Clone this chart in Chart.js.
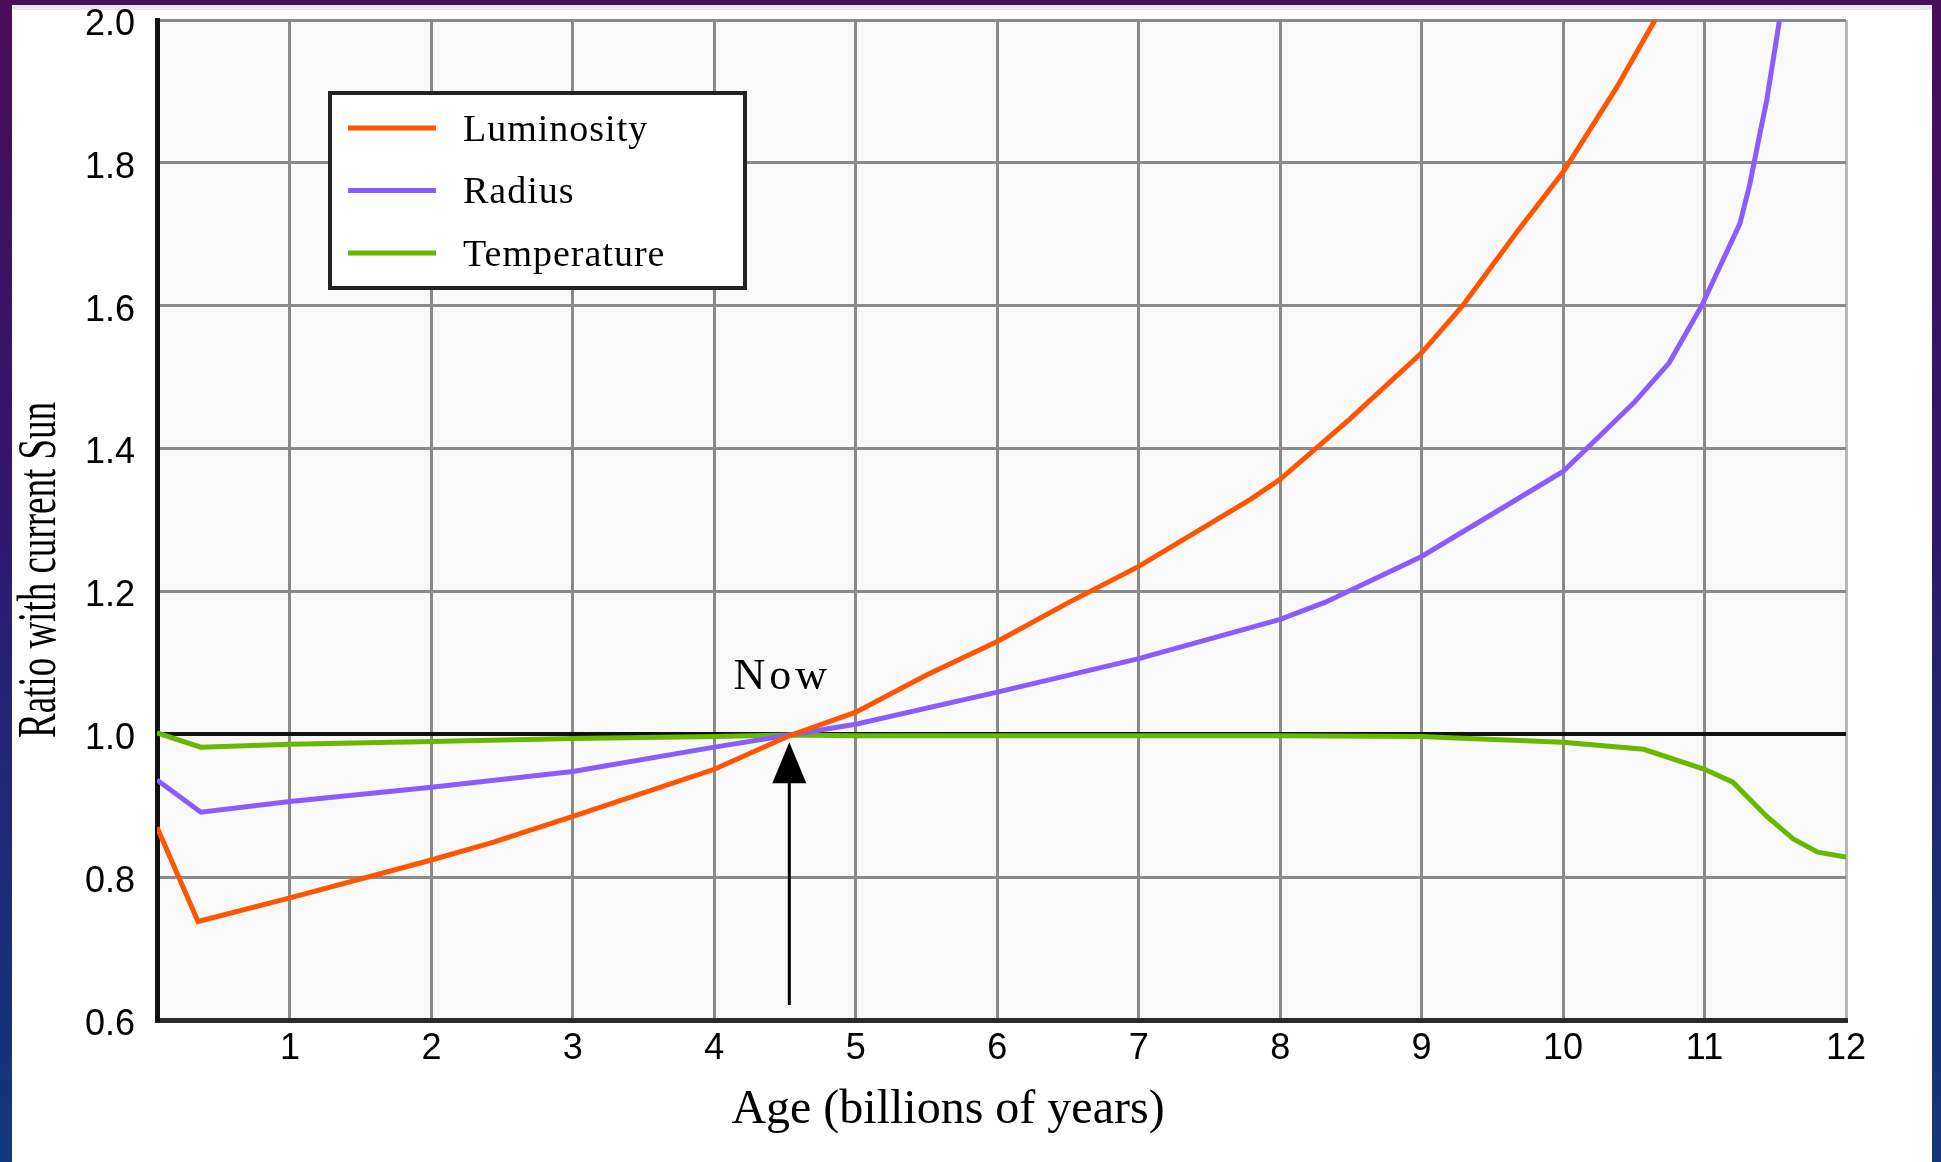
<!DOCTYPE html>
<html>
<head>
<meta charset="utf-8">
<script src="https://cdn.jsdelivr.net/npm/chart.js@4.4.1/dist/chart.umd.min.js"></script>
<style>
html, body { margin: 0; padding: 0; width: 1941px; height: 1162px; overflow: hidden; }
body { position: relative; background: linear-gradient(to bottom, #4a0d5a 0%, #32166a 40%, #1d2c78 75%, #13367f 100%); }
#panel { position: absolute; left: 12px; top: 5px; width: 1920px; height: 1157px; background: #fff; border-top: 5px solid #e6e6ee; box-sizing: border-box; }
#chart { position: absolute; left: 0; top: 0; }
</style>
</head>
<body>
<div id="panel"></div>
<canvas id="chart" width="1941" height="1162"></canvas>
<script>
// values (age in billions of years, ratio to current Sun)
const lumAge = [0.06, 0.35, 1, 2, 2.44, 3, 4, 4.53, 5, 5.5, 6, 6.5, 7, 7.79, 8, 8.49, 9, 9.29, 9.67, 10, 10.38, 10.65];
const lumVal = [0.87, 0.738, 0.771, 0.824, 0.849, 0.885, 0.951, 0.998, 1.031, 1.083, 1.13, 1.184, 1.235, 1.329, 1.357, 1.441, 1.534, 1.6, 1.702, 1.787, 1.906, 2.0];

const radAge = [0.06, 0.37, 1, 2, 3, 4, 4.53, 5, 6, 7, 8, 8.32, 9, 9.43, 10, 10.5, 10.75, 10.98, 11.25, 11.32, 11.38, 11.44, 11.53];
const radVal = [0.936, 0.891, 0.906, 0.926, 0.948, 0.982, 0.999, 1.014, 1.059, 1.106, 1.161, 1.185, 1.249, 1.3, 1.368, 1.464, 1.52, 1.6, 1.715, 1.77, 1.83, 1.888, 2.0];

const tempAge = [0.06, 0.37, 1, 2, 3, 4, 4.53, 5, 6, 7, 8, 9, 9.2, 10, 10.57, 11, 11.2, 11.44, 11.63, 11.8, 12];
const tempVal = [1.002, 0.982, 0.986, 0.99, 0.994, 0.997, 0.999, 0.998, 0.998, 0.998, 0.998, 0.997, 0.995, 0.989, 0.979, 0.951, 0.933, 0.885, 0.853, 0.835, 0.828];

const labels = ['Luminosity', 'Radius', 'Temperature'];
const colors = ['#ff5500', '#8a5cff', '#66b800'];

const X_MIN = 0.06, X_MAX = 12;
const Y_MIN = 0.6, Y_MAX = 2.0, Y_STEP = 0.2;

// "Now" marker
const nowAge = 4.53;
const nowText = [4.48, 1.08];
const arrowFrom = 0.621, arrowTo = 0.989;

const SERIF = '"Liberation Serif", "Times New Roman", serif';
const SANS = '"Liberation Sans", Arial, sans-serif';

const pts = (xs, ys) => xs.map((x, i) => ({ x, y: ys[i] }));
const isOne = v => Math.abs(v - 1) < 1e-6;

const plotBg = {
  id: 'plotBg',
  beforeDraw(chart) {
    const { ctx, chartArea: a } = chart;
    ctx.save();
    ctx.fillStyle = '#f9f9f9';
    ctx.fillRect(a.left, a.top, a.right - a.left, a.bottom - a.top);
    ctx.restore();
  }
};

const nowMarker = {
  id: 'nowMarker',
  afterDatasetsDraw(chart) {
    const { ctx, scales: { x, y } } = chart;
    const px = x.getPixelForValue(nowAge);
    const yTip = y.getPixelForValue(arrowTo), yBot = y.getPixelForValue(arrowFrom);
    ctx.save();
    ctx.strokeStyle = '#000';
    ctx.fillStyle = '#000';
    ctx.lineWidth = 3;
    ctx.beginPath();
    ctx.moveTo(px, yBot);
    ctx.lineTo(px, yTip + 30);
    ctx.stroke();
    ctx.beginPath();
    ctx.moveTo(px, yTip);
    ctx.lineTo(px - 17, yTip + 41);
    ctx.lineTo(px + 17, yTip + 41);
    ctx.closePath();
    ctx.fill();
    ctx.font = '44px ' + SERIF;
    ctx.letterSpacing = '4px';
    ctx.textAlign = 'center';
    ctx.textBaseline = 'middle';
    ctx.fillText('Now', x.getPixelForValue(nowText[0]), y.getPixelForValue(nowText[1]));
    ctx.restore();
  }
};

const boxLegend = {
  id: 'boxLegend',
  afterDraw(chart) {
    const { ctx, chartArea: a } = chart;
    const left = a.left + 173, top = a.top + 73, w = 415, h = 195;
    ctx.save();
    ctx.fillStyle = '#fff';
    ctx.fillRect(left, top, w, h);
    ctx.strokeStyle = '#222';
    ctx.lineWidth = 4;
    ctx.strokeRect(left, top, w, h);
    ctx.font = '38px ' + SERIF;
    ctx.letterSpacing = '1px';
    ctx.textBaseline = 'middle';
    ctx.fillStyle = '#000';
    chart.data.datasets.forEach((ds, i) => {
      const ly = top + 35 + i * 62.5;
      ctx.strokeStyle = ds.borderColor;
      ctx.lineWidth = 5;
      ctx.beginPath();
      ctx.moveTo(left + 18, ly);
      ctx.lineTo(left + 106, ly);
      ctx.stroke();
      ctx.fillText(ds.label, left + 133, ly + 3);
    });
    ctx.restore();
  }
};

const axisTitles = {
  id: 'axisTitles',
  afterDraw(chart) {
    const { ctx } = chart;
    ctx.save();
    ctx.fillStyle = '#000';
    ctx.textAlign = 'center';
    ctx.font = '48px ' + SERIF;
    ctx.textBaseline = 'alphabetic';
    ctx.fillText('Age (billions of years)', 948, 1123);
    ctx.translate(40, 570);
    ctx.rotate(-Math.PI / 2);
    ctx.scale(1, 1.5);
    ctx.font = '37px ' + SERIF;
    ctx.textBaseline = 'middle';
    ctx.fillText('Ratio with current Sun', 0, 0);
    ctx.restore();
  }
};

new Chart(document.getElementById('chart'), {
  type: 'line',
  data: {
    datasets: [
      { label: labels[0], data: pts(lumAge, lumVal), borderColor: colors[0] },
      { label: labels[1], data: pts(radAge, radVal), borderColor: colors[1] },
      { label: labels[2], data: pts(tempAge, tempVal), borderColor: colors[2] },
    ].map(d => ({ ...d, borderWidth: 5, pointRadius: 0, fill: false, tension: 0 }))
  },
  options: {
    responsive: false,
    animation: false,
    devicePixelRatio: 1,
    layout: { padding: { left: 0, top: 20, right: 95, bottom: 0 } },
    plugins: { legend: { display: false }, tooltip: { enabled: false } },
    scales: {
      x: {
        type: 'linear', min: X_MIN, max: X_MAX,
        afterBuildTicks: s => { s.ticks = s.ticks.filter(t => Number.isInteger(t.value)); },
        afterFit: s => { s.height = 142; s.paddingLeft = 0; s.paddingRight = 0; },
        ticks: { stepSize: 1, color: '#000', font: { family: SANS, size: 36 }, padding: 7, maxRotation: 0 },
        grid: { drawTicks: false, color: c => c.tick && c.tick.value === 12 ? '#b8b8b8' : '#8a8a8a', lineWidth: 3 },
        border: { color: '#2a2a2a', width: 5 }
      },
      y: {
        type: 'linear', min: Y_MIN, max: Y_MAX,
        afterFit: s => { s.width = 157; s.paddingTop = 0; s.paddingBottom = 0; },
        ticks: { stepSize: Y_STEP, color: '#000', font: { family: SANS, size: 36 }, padding: 22, labelOffset: 5, callback: v => v.toFixed(1) },
        grid: {
          drawTicks: false,
          color: c => c.tick && isOne(c.tick.value) ? '#111' : '#8a8a8a',
          lineWidth: c => c.tick && isOne(c.tick.value) ? 4 : 3
        },
        border: { color: '#111', width: 5 }
      }
    }
  },
  plugins: [plotBg, nowMarker, boxLegend, axisTitles]
});
</script>
</body>
</html>
